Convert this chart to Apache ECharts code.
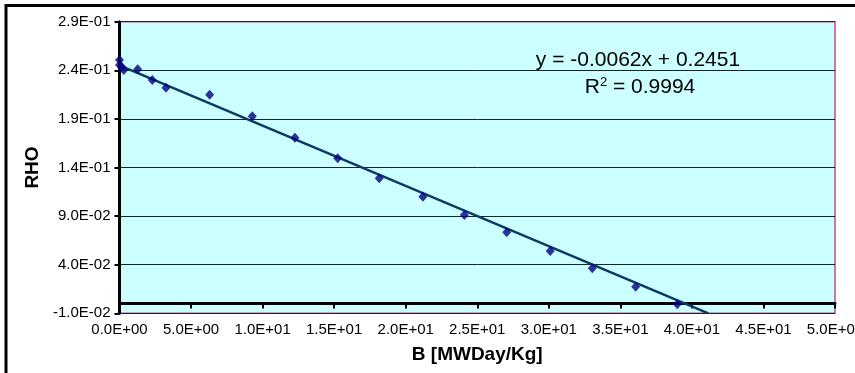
<!DOCTYPE html>
<html>
<head>
<meta charset="utf-8">
<script src="https://cdn.jsdelivr.net/npm/echarts@6/dist/echarts.min.js"></script>
<style>
  html, body { margin: 0; padding: 0; background: #fff; }
  #chart { width: 855px; height: 373px; }
</style>
</head>
<body>
<div id="chart"></div>
<script>
// burnup B [MWDay/Kg] and reactivity RHO
const bValues = [0, 0, 0.15, 0.3, 1.27, 2.29, 3.25, 6.3, 9.28, 12.26, 15.25, 18.15, 21.2, 24.1, 27.06, 30.1, 33.04, 36.07, 38.98];
const rhoValues = [0.2506, 0.2455, 0.2437, 0.2403, 0.241, 0.23, 0.2221, 0.2149, 0.1927, 0.1707, 0.1495, 0.1289, 0.11, 0.0912, 0.0734, 0.0541, 0.0363, 0.0174, -0.0007];

// linear trendline as printed on the chart
const slope = -0.0062;
const intercept = 0.2451;
const rSquared = '0.9994';
const trendX = [0, 41.15];

// formats like excel: 2.9E-01
function sci(v) {
  let s = Number(v).toExponential(1);
  let parts = s.split('e');
  let exp = parseInt(parts[1], 10);
  let sign = exp < 0 ? '-' : '+';
  let e = Math.abs(exp);
  return parts[0] + 'E' + sign + (e < 10 ? '0' + e : e);
}

let dom = document.getElementById('chart');
let myChart = echarts.init(dom, null, { renderer: 'canvas' });

let points = bValues.map((b, i) => [b, rhoValues[i]]);
let trend = trendX.map(x => [x, slope * x + intercept]);

let option = {
  animation: false,
  grid: {
    left: 119.5,
    right: 20,
    top: 21.7,
    bottom: 59.7,
    containLabel: false,
    outerBoundsMode: 'none',
    show: true,
    backgroundColor: '#CCFFFF',
    borderColor: '#CC4499',
    borderWidth: 1.5
  },
  xAxis: {
    type: 'value',
    min: 0,
    max: 50,
    interval: 5,
    name: 'B [MWDay/Kg]',
    nameLocation: 'middle',
    nameGap: 32,
    nameTextStyle: { fontFamily: 'Liberation Sans, Arial', fontWeight: 'bold', fontSize: 19, color: '#000' },
    axisLine: { onZero: true, lineStyle: { color: '#000', width: 3 } },
    axisTick: { length: 5, lineStyle: { color: '#000', width: 2 } },
    axisLabel: {
      margin: 9,
      fontFamily: 'Liberation Sans, Arial',
      fontSize: 15,
      color: '#000',
      showMaxLabel: true,
      formatter: v => sci(v)
    },
    splitLine: { show: false }
  },
  yAxis: {
    type: 'value',
    min: -0.01,
    max: 0.29,
    interval: 0.05,
    name: 'RHO',
    nameLocation: 'middle',
    nameGap: 77,
    nameTextStyle: { fontFamily: 'Liberation Sans, Arial', fontWeight: 'bold', fontSize: 19, color: '#000' },
    axisLine: { show: true, lineStyle: { color: '#000', width: 3 } },
    axisTick: { show: true, length: 5, lineStyle: { color: '#000', width: 2 } },
    axisLabel: {
      margin: 9,
      fontFamily: 'Liberation Sans, Arial',
      fontSize: 15,
      color: '#000',
      formatter: v => sci(v)
    },
    splitLine: { show: true, lineStyle: { color: '#222', width: 1 } }
  },
  graphic: [
    {
      type: 'rect',
      shape: { x: 6, y: 5.5, width: 900, height: 400 },
      style: { fill: 'none', stroke: '#000', lineWidth: 3 },
      silent: true
    },
    {
      type: 'text',
      x: 638,
      y: 60,
      style: {
        text: 'y = -0.0062x + 0.2451',
        fontFamily: 'Liberation Sans, Arial',
        fontSize: 21,
        fill: '#000',
        align: 'center',
        verticalAlign: 'middle'
      },
      z: 100
    },
    {
      type: 'text',
      x: 640,
      y: 87,
      style: {
        text: 'R{sup|2} = ' + rSquared,
        fontFamily: 'Liberation Sans, Arial',
        fontSize: 21,
        fill: '#000',
        align: 'center',
        verticalAlign: 'middle',
        rich: {
          sup: { fontSize: 13, verticalAlign: 'top', padding: [0, 0, 10, 0], fontFamily: 'Liberation Sans, Arial', fill: '#000' }
        }
      },
      z: 100
    }
  ],
  series: [
    {
      name: 'Trend',
      type: 'line',
      data: trend,
      symbol: 'none',
      lineStyle: { color: '#0B3A66', width: 2.5 },
      z: 2
    },
    {
      name: 'RHO',
      type: 'scatter',
      data: points,
      symbol: 'diamond',
      symbolSize: [9, 10],
      itemStyle: { color: '#000080' },
      z: 3
    }
  ]
};

myChart.setOption(option);
window.addEventListener('resize', myChart.resize);
</script>
</body>
</html>
